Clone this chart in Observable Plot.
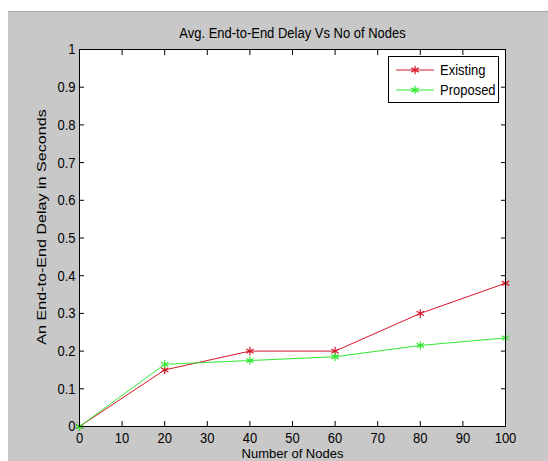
<!DOCTYPE html>
<html>
<head>
<meta charset="utf-8">
<script src="https://cdn.jsdelivr.net/npm/d3@7"></script>
<script src="https://cdn.jsdelivr.net/npm/@observablehq/plot@0.6"></script>
<style>
  html, body { margin: 0; padding: 0; background: #fff; }
  #wrap { position: relative; width: 548px; height: 461px; overflow: hidden; background: #fff; }
  #topline { position: absolute; left: 8px; top: 11px; width: 540px; height: 1px; background: #a8a8a8; }
  #chart { position: absolute; left: 8px; top: 12px; }
  #legend { position: absolute; left: 388px; top: 56px; }
</style>
</head>
<body>
<div id="wrap">
  <div id="topline"></div>
  <div id="chart"></div>
  <div id="legend"></div>
</div>
<script>
// ---- data ----
const title = "Avg. End-to-End Delay Vs No of Nodes";
const xLabel = "Number of Nodes";
const yLabel = "An End-to-End Delay in Seconds";
const seriesNames = ["Existing", "Proposed"];
const seriesColors = ["#d8162a", "#33e833"];
const nodes = [0, 20, 40, 60, 80, 100];
const existing = [0, 0.15, 0.2, 0.2, 0.3, 0.38];
const proposed = [0, 0.165, 0.175, 0.185, 0.215, 0.235];
const xTicks = [0, 10, 20, 30, 40, 50, 60, 70, 80, 90, 100];
const xTickLabels = ["0", "10", "20", "30", "40", "50", "60", "70", "80", "90", "100"];
const yTicks = [0, 0.1, 0.2, 0.3, 0.4, 0.5, 0.6, 0.7, 0.8, 0.9, 1];
const yTickLabels = ["0", "0.1", "0.2", "0.3", "0.4", "0.5", "0.6", "0.7", "0.8", "0.9", "1"];

const rows = [];
nodes.forEach((n, i) => rows.push({series: "Existing", nodes: n, delay: existing[i]}));
nodes.forEach((n, i) => rows.push({series: "Proposed", nodes: n, delay: proposed[i]}));

const font = "'Liberation Sans', Arial, Helvetica, sans-serif";
const blank = () => "";
const stretch = 1.18;   // the reference's text looks vertically stretched
const stretchY = 1.24;  // for the rotated y label

const chart = Plot.plot({
  width: 540,
  height: 449,
  marginLeft: 71,
  marginRight: 43,
  marginTop: 37,
  marginBottom: 35,
  style: {background: "#c8c8c8", fontFamily: font, fontSize: "13px", color: "#000"},
  x: {domain: [0, 100]},
  y: {domain: [0, 1]},
  color: {domain: seriesNames, range: seriesColors},
  marks: [
    Plot.frame({fill: "#fff", stroke: null}),
    Plot.axisX({ticks: xTicks, tickSize: 0, tickPadding: 6, label: null,
      tickFormat: d => xTickLabels[xTicks.indexOf(d)], fill: "#000"}),
    Plot.axisX({ticks: xTicks, tickSize: -5, tickFormat: blank, label: null, stroke: "#000"}),
    Plot.axisX({anchor: "top", ticks: xTicks, tickSize: -5, tickFormat: blank, label: null, stroke: "#000"}),
    Plot.axisY({ticks: yTicks, tickSize: 0, tickPadding: 4, label: null,
      tickFormat: d => yTickLabels[yTicks.indexOf(d)], fill: "#000"}),
    Plot.axisY({ticks: yTicks, tickSize: -5, tickFormat: blank, label: null, stroke: "#000"}),
    Plot.axisY({anchor: "right", ticks: yTicks, tickSize: -5, tickFormat: blank, label: null, stroke: "#000"}),
    Plot.line(rows, {x: "nodes", y: "delay", stroke: "series", strokeWidth: 1}),
    Plot.dot(rows, {x: "nodes", y: "delay", stroke: "series", symbol: "asterisk", r: 4, strokeWidth: 1.2}),
    Plot.frame({stroke: "#000"}),
    Plot.text([title], {text: d => d, frameAnchor: "top", lineAnchor: "middle", dy: -16, fill: "#000", fontSize: 13}),
    Plot.text([xLabel], {text: d => d, frameAnchor: "bottom", lineAnchor: "top", dy: 22, fill: "#000", fontSize: 13,
      className: "nostretch"}),
    Plot.text([yLabel], {text: d => d, frameAnchor: "left", textAnchor: "middle", lineAnchor: "middle",
      rotate: -90, dx: -38, dy: -11, fill: "#000", fontSize: 13})
  ]
});
// stretch the text vertically like the reference
chart.querySelectorAll("text").forEach(t => {
  const tr = t.getAttribute("transform");
  if (!tr) return;
  const g = t.closest("g");
  if (g && g.classList.contains("nostretch")) return;
  t.setAttribute("transform", tr + (tr.includes("rotate") ? ` scale(${stretchY},1)` : ` scale(1,${stretch})`));
});
document.getElementById("chart").appendChild(chart);

// ---- legend (HTML/SVG overlay) ----
const lw = 111, lh = 47;
const leg = d3.select("#legend").append("svg")
  .attr("width", lw).attr("height", lh)
  .style("display", "block")
  .style("font-family", font).style("font-size", "13px");
leg.append("rect").attr("x", 0.5).attr("y", 0.5).attr("width", lw - 1).attr("height", lh - 1)
  .attr("fill", "#fff").attr("stroke", "#000");
const sym = d3.symbol(d3.symbolAsterisk, 50)();
seriesNames.forEach((name, i) => {
  const yy = 14 + i * 20;
  const g = leg.append("g");
  g.append("line").attr("x1", 8).attr("x2", 46).attr("y1", yy).attr("y2", yy)
    .attr("stroke", seriesColors[i]).attr("stroke-width", 1);
  g.append("path").attr("d", sym).attr("transform", `translate(27,${yy})`)
    .attr("fill", "none").attr("stroke", seriesColors[i]).attr("stroke-width", 1.2);
  g.append("text").attr("transform", `translate(52,${yy + 5}) scale(1,${stretch})`)
    .attr("fill", "#000").text(name);
});
</script>
</body>
</html>
